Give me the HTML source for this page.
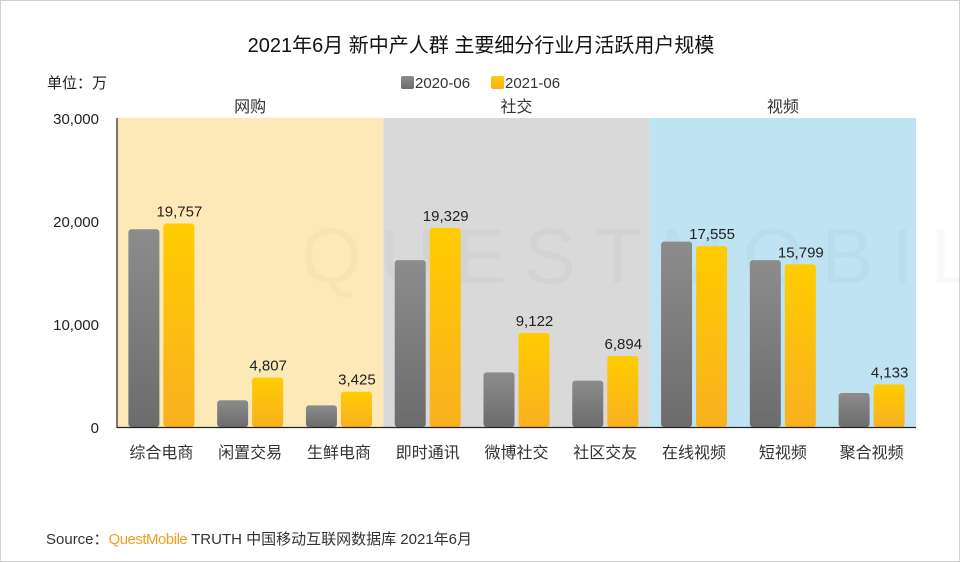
<!DOCTYPE html>
<html><head><meta charset="utf-8"><style>
body{margin:0;background:#fff;}
#wrap{position:relative;width:958px;height:560px;border:1px solid #d0d0d0;overflow:hidden;font-family:"Liberation Sans","Noto Sans CJK SC",sans-serif;}
</style></head><body>
<div id="wrap">
<svg id="chart" width="958" height="560"></svg>
</div>
<script>
const categories=["综合电商","闲置交易","生鲜电商","即时通讯","微博社交","社区交友","在线视频","短视频","聚合视频"];
const series2020=[19200,2600,2100,16200,5300,4500,18000,16200,3300];
const series2021=[19757,4807,3425,19329,9122,6894,17555,15799,4133];
const labels2021=["19,757","4,807","3,425","19,329","9,122","6,894","17,555","15,799","4,133"];
const groups=["网购","社交","视频"];
const yTicks=[0,10000,20000,30000];
const yTickLabels=["0","10,000","20,000","30,000"];
const NS="http://www.w3.org/2000/svg";
const svg=document.getElementById('chart');
const X0=116,X1=915,Y0=426,Y1=117,YMAX=30000;
const bw=(X1-X0)/categories.length;
const y=v=>Y0-(v/YMAX)*(Y0-Y1);
const xc=i=>X0+bw*(i+0.5);
function el(t,a,txt){const e=document.createElementNS(NS,t);for(const k in a)e.setAttribute(k,a[k]);if(txt!==undefined)e.textContent=txt;svg.appendChild(e);return e;}
svg.innerHTML='<defs><linearGradient id="gg" x1="0" y1="0" x2="0" y2="1"><stop offset="0" stop-color="#8c8c8c"/><stop offset="1" stop-color="#6c6c6c"/></linearGradient><linearGradient id="yg" x1="0" y1="0" x2="0" y2="1"><stop offset="0" stop-color="#ffcc00"/><stop offset="1" stop-color="#f9b020"/></linearGradient></defs>';
const bandColors=["#fde9b8","#d9d9d9","#bfe3f3"];
groups.forEach((g,k)=>{
 const bx=X0+k*3*bw;
 const r=el('rect',{x:bx,y:Y1,width:3*bw,height:Y0-Y1,fill:bandColors[k]});
 
 const t=el('text',{x:bx+1.5*bw,y:111,'text-anchor':'middle','font-size':16,fill:'#333'},g);
 
});
el('text',{x:300,y:282,'font-size':78,fill:'#000','fill-opacity':0.025,'letter-spacing':18},'QUESTMOBILE');
categories.forEach((c,i)=>{
 const cx=xc(i);
 const g=el('rect',{x:cx-33,y:y(series2020[i]),width:31,height:Y0-y(series2020[i]),rx:3,fill:'url(#gg)'});
 
 const b=el('rect',{x:cx+2,y:y(series2021[i]),width:31,height:Y0-y(series2021[i]),rx:3,fill:'url(#yg)'});
 
 const v=el('text',{x:cx+18,y:y(series2021[i])-7,'text-anchor':'middle','font-size':15,fill:'#222'},labels2021[i]);
 
 const l=el('text',{x:cx,y:457,'text-anchor':'middle','font-size':16,fill:'#333'},c);
 
});
yTicks.forEach((t,i)=>{
 const tl=el('text',{x:98,y:y(t)+6,'text-anchor':'end','font-size':15,fill:'#222'},yTickLabels[i]);
 
});
const ax=el('line',{x1:X0,y1:Y1,x2:X0,y2:Y0+1,stroke:'#222','stroke-width':1.2});

const xa=el('line',{x1:X0,y1:Y0+0.5,x2:X1,y2:Y0+0.5,stroke:'#222','stroke-width':1.2});

const ti=el('text',{x:480,y:51,'text-anchor':'middle','font-size':20,fill:'#111'},'2021年6月 新中产人群 主要细分行业月活跃用户规模');

const un=el('text',{x:46,y:87,'font-size':15,fill:'#222'},'单位：万');

const l1=el('rect',{x:400,y:75,width:13,height:13,rx:2,fill:'url(#gg)'});

const lt1=el('text',{x:414,y:87,'font-size':15,fill:'#333'},'2020-06');

const l2=el('rect',{x:490,y:75,width:13,height:13,rx:2,fill:'url(#yg)'});

const lt2=el('text',{x:504,y:87,'font-size':15,fill:'#333'},'2021-06');

const src=el('text',{x:45,y:543,'font-size':15,fill:'#333'});

src.innerHTML='<tspan>Source：</tspan><tspan fill="#f0a020" letter-spacing="-0.5">QuestMobile</tspan><tspan> TRUTH 中国移动互联网数据库 2021年6月</tspan>';
</script>
</body></html>
